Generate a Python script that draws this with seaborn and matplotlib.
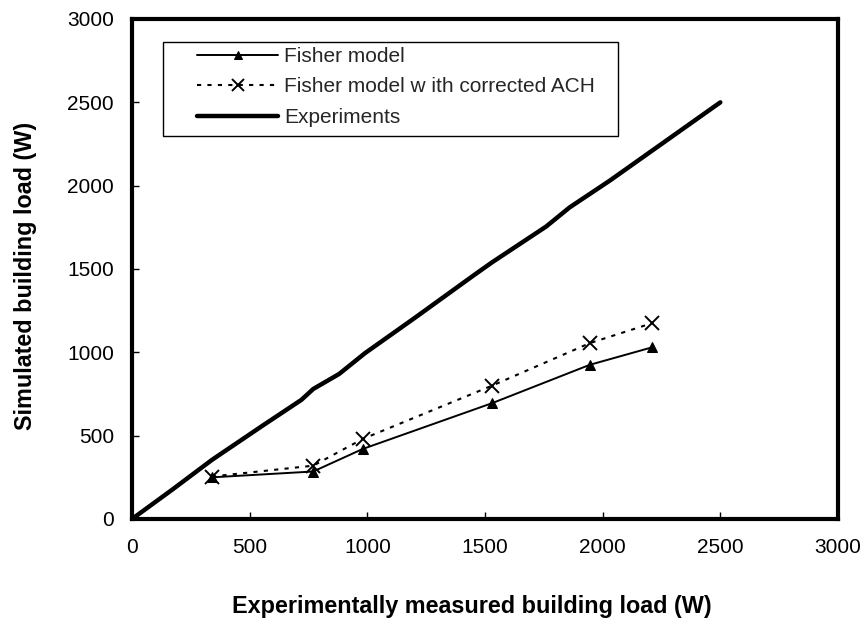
import matplotlib
matplotlib.use("Agg")
import matplotlib.pyplot as plt
from matplotlib.patches import Rectangle
import seaborn as sns
import pandas as pd

# Data
measured = [340, 770, 980, 1530, 1945, 2210]
fisher = [250, 285, 420, 695, 925, 1030]
fisher_ach = [255, 320, 480, 800, 1055, 1175]
exp_x = [0, 170, 340, 560, 720, 770, 880, 990, 1200, 1450, 1530, 1760, 1860, 2030, 2200, 2500]
exp_y = [0, 175, 355, 565, 715, 780, 870, 995, 1205, 1460, 1540, 1755, 1870, 2030, 2200, 2500]

labels = ["Fisher model", "Fisher model w ith corrected ACH", "Experiments"]
ticks = [0, 500, 1000, 1500, 2000, 2500, 3000]

sns.set_theme(style="white")
plt.rcParams['font.family'] = ['Liberation Sans', 'DejaVu Sans']

df1 = pd.DataFrame({"x": measured, "y": fisher})
df2 = pd.DataFrame({"x": measured, "y": fisher_ach})
df3 = pd.DataFrame({"x": exp_x, "y": exp_y})

W, H = 864, 622
fig = plt.figure(figsize=(8.64, 6.22), dpi=100)
L, R, T, B = 132, 838, 19, 519
ax = fig.add_axes([L / W, 1 - B / H, (R - L) / W, (B - T) / H])

sns.lineplot(data=df1, x="x", y="y", ax=ax, color="black", linewidth=1.4,
             marker="^", markersize=7.5, markeredgecolor="black", sort=False,
             label=labels[0])
sns.lineplot(data=df2, x="x", y="y", ax=ax, color="black", linewidth=1.5,
             linestyle=(0, (2, 3)), marker="x", markersize=10, markeredgewidth=1.4,
             markeredgecolor="black", sort=False, label=labels[1])
sns.lineplot(data=df3, x="x", y="y", ax=ax, color="black", linewidth=3.2,
             sort=False, label=labels[2])

ax.set_xlim(0, 3000)
ax.set_ylim(0, 3000)
ax.set_xticks(ticks)
ax.set_yticks(ticks)
ax.set_xticklabels([str(t) for t in ticks], fontsize=15)
ax.set_yticklabels([str(t) for t in ticks], fontsize=15)
ax.tick_params(axis="both", direction="in", length=5, width=1, color="black",
               bottom=True, left=True, labelcolor="black")
ax.tick_params(axis="x", pad=14)
ax.tick_params(axis="y", pad=13)

for s in ax.spines.values():
    s.set_visible(True)
    s.set_color("black")
    s.set_linewidth(3)

ax.set_xlabel("Experimentally measured building load (W)", fontsize=16.8,
              fontweight="bold", color="black")
ax.set_ylabel("Simulated building load (W)", fontsize=16.8,
              fontweight="bold", color="black")
ax.xaxis.set_label_coords(0.4816, -0.152)
ax.yaxis.set_label_coords(-0.1346, 0.486)

# legend frame
rect = Rectangle((163 / W, 1 - 136 / H), (618 - 163) / W, (136 - 42) / H,
                 transform=fig.transFigure, facecolor="white", edgecolor="black",
                 linewidth=1.0, clip_on=False, zorder=4)
ax.add_patch(rect)

leg = ax.legend(loc="upper left", bbox_to_anchor=(197 / W, 1 - 47 / H),
                bbox_transform=fig.transFigure, fontsize=15,
                frameon=False, handlelength=3.9, handletextpad=0.29,
                borderpad=0, labelspacing=0.55, borderaxespad=0)
leg.set_zorder(5)
hs = leg.legend_handles
hs[0].set_markersize(6)
hs[1].set_markersize(9)

fig.savefig("out.png", dpi=100)
